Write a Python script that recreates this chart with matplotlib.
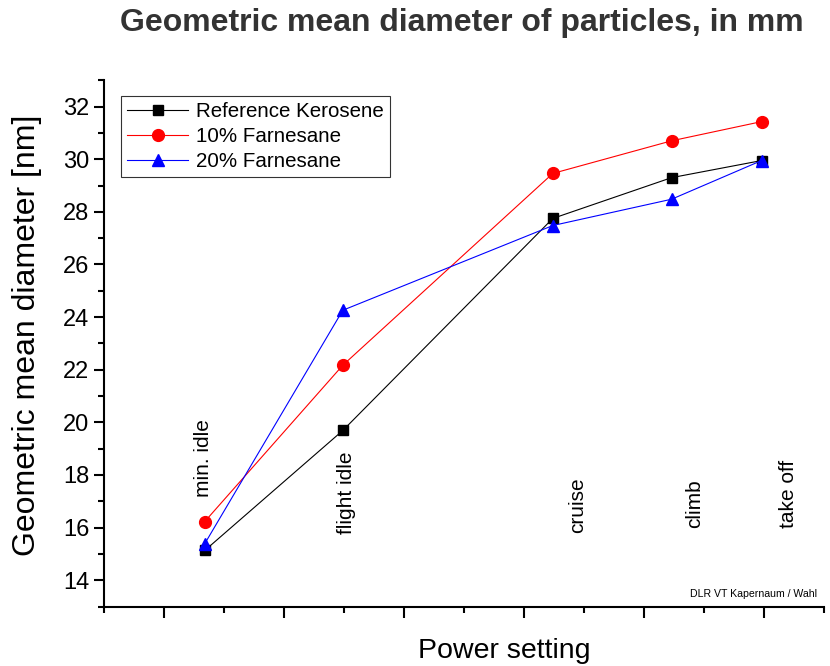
import matplotlib
matplotlib.use("Agg")
import matplotlib.pyplot as plt
from matplotlib.ticker import MultipleLocator, NullFormatter

plt.rcParams['font.family'] = ['Liberation Sans', 'DejaVu Sans']

# Data
x_pos = [1.34, 2.49, 4.24, 5.23, 5.98]
kerosene = [15.13, 19.69, 27.75, 29.30, 29.95]
farnesane10 = [16.23, 22.17, 29.46, 30.70, 31.43]
farnesane20 = [15.39, 24.26, 27.48, 28.48, 29.95]
series_names = ["Reference Kerosene", "10% Farnesane", "20% Farnesane"]

setting_labels = ["min. idle", "flight idle", "cruise", "climb", "take off"]
setting_label_x = [1.325, 2.525, 4.45, 5.425, 6.2]
setting_label_y = [17.18, 15.74, 15.81, 16.0, 16.0]

fig = plt.figure(figsize=(8.3, 6.66), dpi=100)
ax = fig.add_axes([104/830, (666-606.5)/666, 720/830, (606.5-80.3)/666])

ax.plot(x_pos, kerosene, color='black', lw=0.8, marker='s', ms=7.5,
        mfc='black', mec='black', label=series_names[0])
ax.plot(x_pos, farnesane10, color='red', lw=0.8, marker='o', ms=8.5,
        mfc='red', mec='red', label=series_names[1])
ax.plot(x_pos, farnesane20, color='blue', lw=0.8, marker='^', ms=9,
        mfc='blue', mec='blue', label=series_names[2])

for lx, ly, t in zip(setting_label_x, setting_label_y, setting_labels):
    ax.text(lx, ly, t, rotation=90, ha='center', va='bottom', fontsize=15)

ax.set_xlim(0.5, 6.5)
ax.set_ylim(13, 33)
ax.xaxis.set_major_locator(MultipleLocator(1))
ax.xaxis.set_minor_locator(MultipleLocator(0.5))
ax.xaxis.set_major_formatter(NullFormatter())
ax.yaxis.set_major_locator(MultipleLocator(2))
ax.yaxis.set_minor_locator(MultipleLocator(1))

for s in ['top', 'right']:
    ax.spines[s].set_visible(False)
for s in ['left', 'bottom']:
    ax.spines[s].set_linewidth(1.5)

ax.tick_params(axis='both', which='major', direction='out', length=7, width=1.5, labelsize=17)
ax.tick_params(axis='both', which='minor', direction='out', length=4, width=1.5)
ax.tick_params(axis='x', which='major', length=8)

fig.text(27/830, 1-335.5/666, "Geometric mean diameter [nm]", rotation=90,
         ha='center', va='center', fontsize=23)
fig.text(504/830, 1-658/666, "Power setting", ha='center', va='baseline',
         fontsize=20.5)

fig.text(462/830, 1-31/666, "Geometric mean diameter of particles, in mm",
         fontsize=23, fontweight='bold', color='#333333', ha='center',
         va='baseline')

ax.text(0.99, 0.015, "DLR VT Kapernaum / Wahl", transform=ax.transAxes,
        ha='right', va='bottom', fontsize=7.6)

leg = ax.legend(loc='upper left', bbox_to_anchor=(0.023, 0.97), fontsize=14.8,
                frameon=True, fancybox=False, edgecolor='black',
                handlelength=3.0, borderpad=0.3, labelspacing=0.28,
                handletextpad=0.35, borderaxespad=0)
leg.get_frame().set_linewidth(0.8)

fig.savefig("out.png", dpi=100)
